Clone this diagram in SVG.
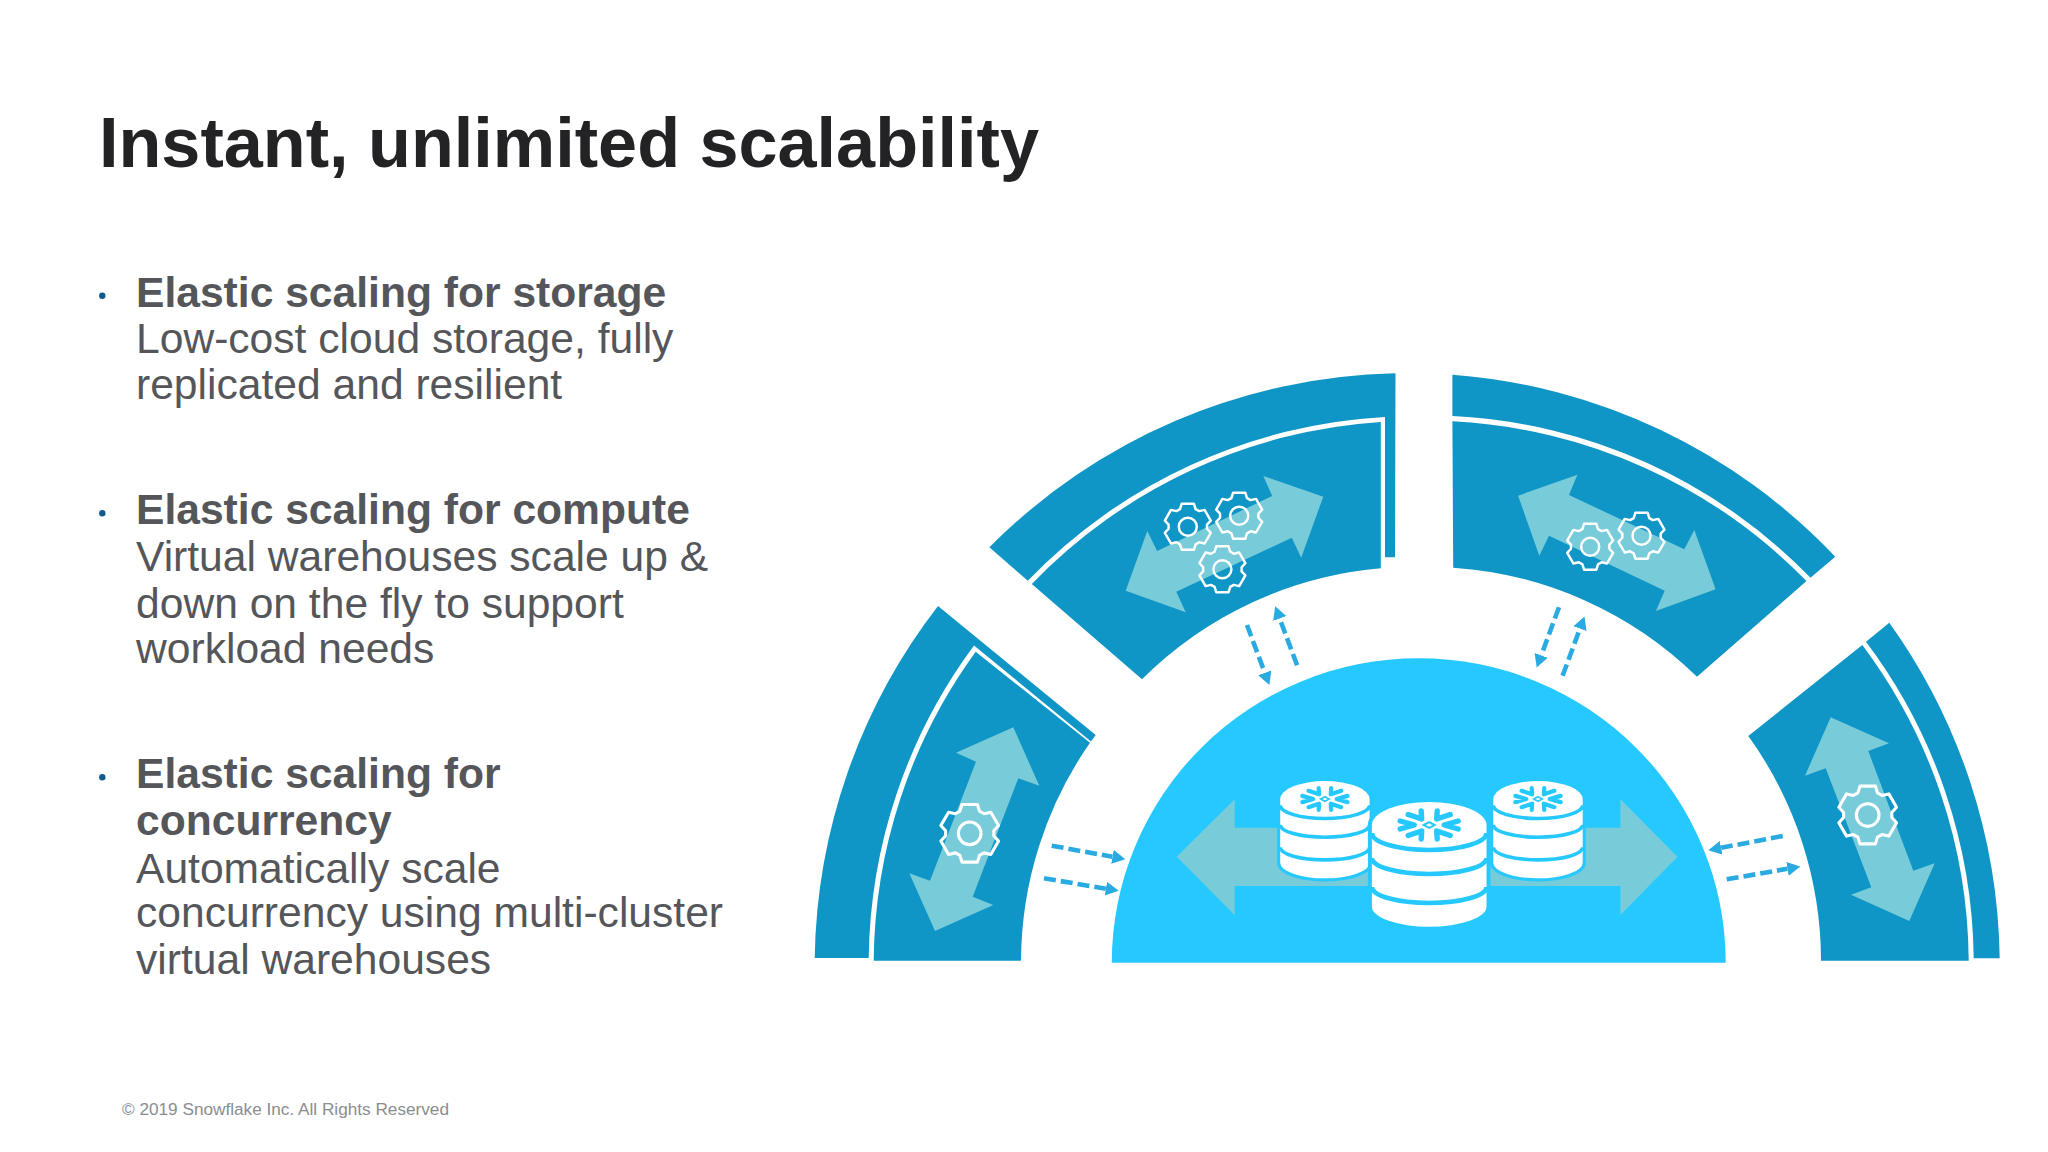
<svg xmlns="http://www.w3.org/2000/svg" xmlns:xlink="http://www.w3.org/1999/xlink" width="2048" height="1152" viewBox="0 0 2048 1152">
<style>
text{font-family:"Liberation Sans",Arial,sans-serif}
.title{font-size:70.2px;font-weight:700;fill:#232326}
.h{font-size:42.6px;font-weight:700;fill:#55565a}
.b{font-size:42.6px;fill:#55565a}
.foot{font-size:17.2px;fill:#8b8d90}
.sec{fill:#0f96c6}
.arw{fill:#78cbd9}
.gear{fill:none;stroke:#fff;stroke-width:3;stroke-linejoin:round}
.dash{fill:none;stroke:#29abe2;stroke-width:4.6;stroke-dasharray:12 5}
.fl{fill:none;stroke:#26c9ff;stroke-width:5.4;stroke-linecap:round;stroke-linejoin:round}
.cut{fill:none;stroke:#26c9ff;stroke-width:4.6}
</style>
<defs>
<marker id="tip" markerUnits="userSpaceOnUse" markerWidth="16" markerHeight="16" refX="0" refY="7" orient="auto"><path d="M0,0L13,7L0,14Z" fill="#29abe2"/></marker>
<g id="gr"><path class="gear" d="M-9.5,-21.5L-7.5,-28H7.5L9.5,-21.5L13.9,-19L20.5,-20.5L28,-7.5L23.4,-2.5V2.5L28,7.5L20.5,20.5L13.9,19L9.5,21.5L7.5,28H-7.5L-9.5,21.5L-13.9,19L-20.5,20.5L-28,7.5L-23.4,2.5V-2.5L-28,-7.5L-20.5,-20.5L-13.9,-19Z"/><circle class="gear" r="11"/></g>
<g id="db">
<path d="M-57.3,0A57.3 23 0 0 1 57.3,0V81.7A57.3 20 0 0 1 -57.3,81.7Z" fill="#fff" stroke="#26c9ff" stroke-width="8" paint-order="stroke"/>
<path class="cut" d="M-57.3,8A57.3 17 0 0 0 57.3,8M-57.3,33A57.3 16 0 0 0 57.3,33M-57.3,62A57.3 16 0 0 0 57.3,62"/>
<path class="fl" d="M-8,-14L-7.5,-6L-21,-10.5M8,-14L7.5,-6L21,-10.5M-8,14L-7.5,6L-21,10.5M8,14L7.5,6L21,10.5M-29,-4L-15,0L-29,4M29,-4L15,0L29,4"/>
<path d="M-5.5,0L0,-2.9L5.5,0L0,2.9Z" fill="#fff" stroke="#26c9ff" stroke-width="2"/>
</g>
</defs>
<rect width="2048" height="1152" fill="#fff"/>
<text class="title" x="99" y="167">Instant, unlimited scalability</text>
<g id="bullets" fill="#0f5a8f"><circle cx="102.3" cy="295.7" r="3.2"/><circle cx="102.3" cy="513.3" r="3.2"/><circle cx="102.3" cy="777.3" r="3.2"/></g>
<text class="h" x="136" y="307">Elastic scaling for storage</text>
<text class="b" x="136" y="353">Low-cost cloud storage, fully</text>
<text class="b" x="136" y="398.5">replicated and resilient</text>
<text class="h" x="136" y="524">Elastic scaling for compute</text>
<text class="b" x="136" y="571">Virtual warehouses scale up &amp;</text>
<text class="b" x="136" y="618">down on the fly to support</text>
<text class="b" x="136" y="663">workload needs</text>
<text class="h" x="136" y="788">Elastic scaling for</text>
<text class="h" x="136" y="835">concurrency</text>
<text class="b" x="136" y="883">Automatically scale</text>
<text class="b" x="136" y="927">concurrency using multi-cluster</text>
<text class="b" x="136" y="974">virtual warehouses</text>
<text class="foot" x="122" y="1115">© 2019 Snowflake Inc. All Rights Reserved</text>
<g id="sector-left">
<path class="sec" d="M814.7,958A590 590 0 0 1 938,606L1095.7,735L1091,741.5L974,645.5A536 536 0 0 0 868.7,958Z"/>
<path class="sec" d="M873.7,960.7A532 532 0 0 1 975.7,651.7L1090,742.7A385 385 0 0 0 1021,960.7Z"/>
<polygon class="arw" points="1013.3,727.3 1039.3,785.7 1018.3,778.3 972.7,896.7 993.3,905 935,931 909.3,873.3 930,880.7 976,761.7 956,752.7"/>
<use xlink:href="#gr" href="#gr" transform="translate(969.7,833.3) scale(1.03)"/>
</g>
<g id="sector-top-left">
<path class="sec" d="M989.4,547.3A590 590 0 0 1 1395.5,373.3L1395,557.3H1385V417A536 536 0 0 0 1027.8,580.7Z"/>
<path class="sec" d="M1031.8,584A532 532 0 0 1 1380.8,422V568.3A385 385 0 0 0 1142,679.3Z"/>
<polygon class="arw" points="1263.3,476 1323.3,496.7 1301.2,557.7 1291.8,537.7 1176.3,591.7 1185.7,612.3 1125.7,590.7 1147.3,531 1157.1,551 1272.2,496"/>
<use xlink:href="#gr" href="#gr" transform="translate(1187.8,526.7) scale(.82)"/>
<use xlink:href="#gr" href="#gr" transform="translate(1239.2,515.7) scale(.82)"/>
<use xlink:href="#gr" href="#gr" transform="translate(1222.4,569.3) scale(.82)"/>
</g>
<g id="sector-top-right">
<path class="sec" d="M1452.4,374.7A590 590 0 0 1 1835.3,556.7L1810.5,577.7A536 536 0 0 0 1452.4,416Z"/>
<path class="sec" d="M1452.4,421.3A532 532 0 0 1 1806.5,581L1697,676.7A385 385 0 0 0 1453.2,567.7Z"/>
<polygon class="arw" points="1577.4,474.7 1518.1,495.7 1539.3,555.7 1549,535.7 1664.7,590.7 1655.9,611 1715.6,589.3 1694.3,530 1684.3,549.3 1569,495"/>
<use xlink:href="#gr" href="#gr" transform="translate(1590.2,546.7) scale(.82)"/>
<use xlink:href="#gr" href="#gr" transform="translate(1641.5,535.7) scale(.82)"/>
</g>
<g id="sector-right">
<path class="sec" d="M1889.3,622.7A590 590 0 0 1 1999.7,958.3H1973.7A536 536 0 0 0 1866,641.7Z"/>
<path class="sec" d="M1862.3,645A532 532 0 0 1 1968.7,960.7H1821A385 385 0 0 0 1748.3,736Z"/>
<polygon class="arw" points="1830.7,717.3 1889,743.3 1868.3,751 1913.3,870.7 1934.7,863.3 1909.3,921 1851,894.7 1871.3,887.3 1825.7,768.3 1805,775.7"/>
<use xlink:href="#gr" href="#gr" transform="translate(1867.7,815) scale(1.03)"/>
</g>
<g id="storage-dome">
<path d="M1111.8,962.7A306.9 304.4 0 0 1 1725.7,962.7Z" fill="#26c9ff"/>
<polygon class="arw" points="1176.7,856.7 1234.7,799.3 1234.7,827.7 1620.4,827.7 1620.4,799.3 1677.6,856.7 1620.4,915 1620.4,886 1234.7,886 1234.7,915"/>
<use xlink:href="#db" href="#db" transform="translate(1324.9,799) scale(.78)"/>
<use xlink:href="#db" href="#db" transform="translate(1538,799) scale(.78)"/>
<use xlink:href="#db" href="#db" transform="translate(1429.2,825)"/>
</g>
<g id="connectors" class="conn">
<line class="dash" x1="1247" y1="625" x2="1264.8" y2="672.8" marker-end="url(#tip)"/>
<line class="dash" x1="1297.1" y1="665.3" x2="1279.7" y2="618.5" marker-end="url(#tip)"/>
<line class="dash" x1="1559" y1="607.3" x2="1541.2" y2="655.4" marker-end="url(#tip)"/>
<line class="dash" x1="1562.6" y1="675.7" x2="1580" y2="628.6" marker-end="url(#tip)"/>
<line class="dash" x1="1051.7" y1="845.7" x2="1112.5" y2="856.8" marker-end="url(#tip)"/>
<line class="dash" x1="1044" y1="878.3" x2="1105.9" y2="888.7" marker-end="url(#tip)"/>
<line class="dash" x1="1782.7" y1="836" x2="1721.1" y2="847.8" marker-end="url(#tip)"/>
<line class="dash" x1="1726.7" y1="879.3" x2="1787.5" y2="868.8" marker-end="url(#tip)"/>
</g>
</svg>
